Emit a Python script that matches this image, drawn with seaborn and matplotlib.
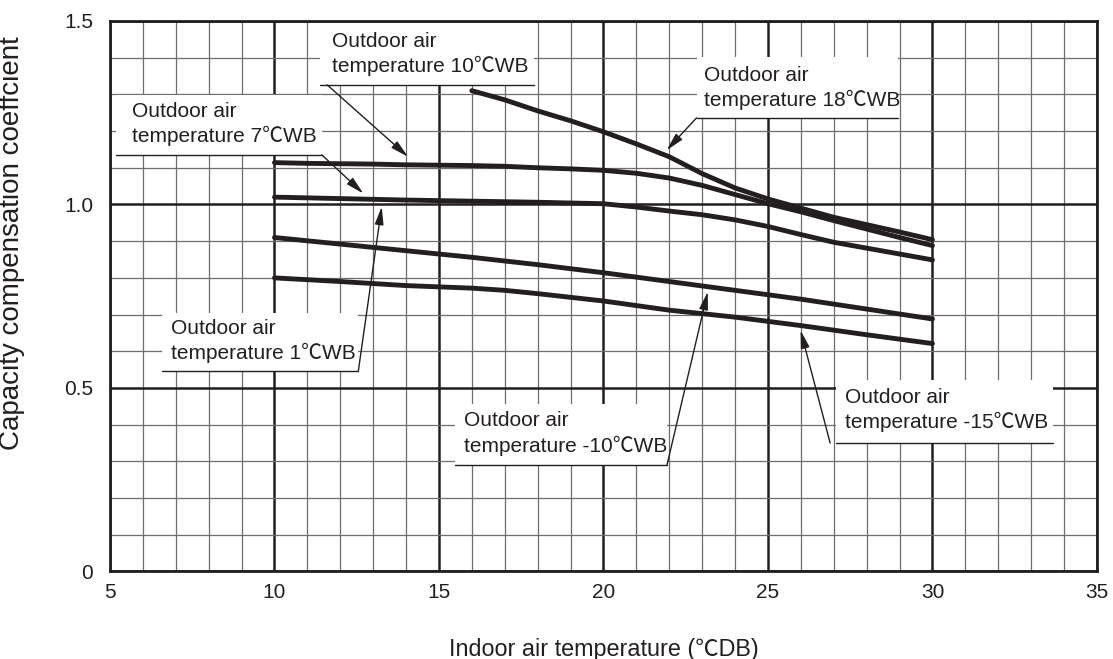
import numpy as np
import pandas as pd
import seaborn as sns
import matplotlib.pyplot as plt
from matplotlib.patches import Rectangle
from matplotlib.ticker import MultipleLocator

# curve data (indoor air temperature, degC DB -> coefficient)
x_10 = [10, 11, 12, 13, 14, 15, 16, 17, 18, 19, 20, 21, 22, 23, 24, 25, 26, 27, 28, 29, 30]
y_10 = [1.114, 1.112, 1.111, 1.110, 1.108, 1.107, 1.106, 1.104, 1.100, 1.097, 1.093,
        1.085, 1.072, 1.052, 1.027, 1.002, 0.980, 0.956, 0.933, 0.910, 0.888]

x_7 = [10, 12, 14, 16, 18, 20, 21, 22, 23, 24, 25, 26, 27, 28, 29, 30]
y_7 = [1.020, 1.016, 1.012, 1.009, 1.006, 1.002, 0.993, 0.982, 0.972, 0.958, 0.940,
       0.918, 0.897, 0.881, 0.865, 0.849]

x_m10 = [10, 12, 14, 16, 18, 20, 22, 24, 26, 28, 30]
y_m10 = [0.910, 0.892, 0.874, 0.856, 0.836, 0.814, 0.790, 0.766, 0.742, 0.715, 0.688]

x_m15 = [10, 12, 14, 16, 17, 18, 20, 22, 24, 26, 28, 30]
y_m15 = [0.800, 0.790, 0.779, 0.772, 0.766, 0.757, 0.737, 0.712, 0.693, 0.670, 0.645, 0.621]

x_18 = [16, 17, 18, 19, 20, 21, 22, 23, 24, 25, 26, 27, 28, 29, 30]
y_18 = [1.310, 1.285, 1.255, 1.228, 1.198, 1.165, 1.130, 1.084, 1.045, 1.015, 0.990,
        0.965, 0.945, 0.925, 0.904]

x_ticks = [5, 10, 15, 20, 25, 30, 35]
y_ticks = [0, 0.5, 1.0, 1.5]
y_tick_labels = ["0", "0.5", "1.0", "1.5"]

x_label = "Indoor air temperature (\u2103DB)"
y_label = "Capacity compensation coeffcient"

# callouts: text, box (x0, x1, y0, y1), text anchor, underline start, arrow tip
callouts = [
    ("Outdoor air\ntemperature 10\u2103WB", (11.38, 17.9, 1.326, 1.495), (11.75, 1.409), (11.6, 1.326), (14.06, 1.13)),
    ("Outdoor air\ntemperature 7\u2103WB", (5.18, 11.44, 1.135, 1.298), (5.66, 1.219), (11.44, 1.135), (12.70, 1.03)),
    ("Outdoor air\ntemperature 1\u2103WB", (6.57, 12.55, 0.547, 0.704), (6.84, 0.627), (12.55, 0.547), (13.26, 0.994)),
    ("Outdoor air\ntemperature -10\u2103WB", (15.5, 21.93, 0.290, 0.456), (15.75, 0.376), (21.93, 0.290), (23.17, 0.762)),
    ("Outdoor air\ntemperature -15\u2103WB", (27.07, 33.66, 0.350, 0.522), (27.35, 0.439), (26.89, 0.350), (25.99, 0.657)),
    ("Outdoor air\ntemperature 18\u2103WB", (22.83, 28.95, 1.236, 1.403), (23.05, 1.317), (22.83, 1.236), (21.92, 1.148)),
]

curves = [("10", x_10, y_10), ("7", x_7, y_7), ("-10", x_m10, y_m10),
          ("-15", x_m15, y_m15), ("18", x_18, y_18)]
rows = []
for name, xs, ys in curves:
    for xv, yv in zip(xs, ys):
        rows.append({"indoor": xv, "coef": yv, "curve": name})
df = pd.DataFrame(rows)

sns.set_theme(style="white")
fonts = ["Liberation Sans", "Noto Sans CJK JP", "DejaVu Sans"]
plt.rcParams["font.family"] = fonts

ink = "#231f20"

fig = plt.figure(figsize=(11.13, 6.59), dpi=100)
ax = fig.add_axes([0.0988, 0.1328, 0.8868, 0.8354])

sns.lineplot(data=df, x="indoor", y="coef", units="curve", estimator=None,
             sort=False, color=ink, lw=3.5, ax=ax, zorder=4)

ax.set_xlim(5, 35)
ax.set_ylim(0, 1.5)
ax.xaxis.set_minor_locator(MultipleLocator(1))
ax.yaxis.set_minor_locator(MultipleLocator(0.1))
ax.set_xticks(x_ticks)
ax.set_yticks(y_ticks)
ax.set_yticklabels(y_tick_labels)
ax.grid(which="minor", color="#6d6d6d", lw=0.9)
ax.grid(which="major", color=ink, lw=1.8)
ax.set_axisbelow(True)
ax.tick_params(which="both", length=0, labelsize=15, colors=ink)
ax.tick_params(axis="y", pad=12)
ax.tick_params(axis="x", pad=8)
for s in ax.spines.values():
    s.set_color(ink)
    s.set_linewidth(2)

ax.set_xlabel(x_label, fontsize=16.8, color=ink, labelpad=26)
ax.set_ylabel(y_label, fontsize=20, color=ink)
ax.yaxis.set_label_coords(-0.086, 0.597)

for text, (bx0, bx1, by0, by1), (tx, ty), (sx, sy), (ex, ey) in callouts:
    ax.add_patch(Rectangle((bx0, by0), bx1 - bx0, by1 - by0, facecolor="white",
                           edgecolor="none", zorder=2))
    ax.plot([bx0, bx1], [by0, by0], color=ink, lw=1.0, zorder=3)
    ax.text(tx, ty, text, fontsize=15, color=ink, ha="left", va="center",
            linespacing=1.3, zorder=3)
    ax.annotate("", xy=(ex, ey), xytext=(sx, sy),
                arrowprops=dict(arrowstyle="-|>,head_length=0.9,head_width=0.22",
                                color=ink, lw=1.0, shrinkA=0, shrinkB=0),
                zorder=5)

fig.savefig("out.png", dpi=100)
